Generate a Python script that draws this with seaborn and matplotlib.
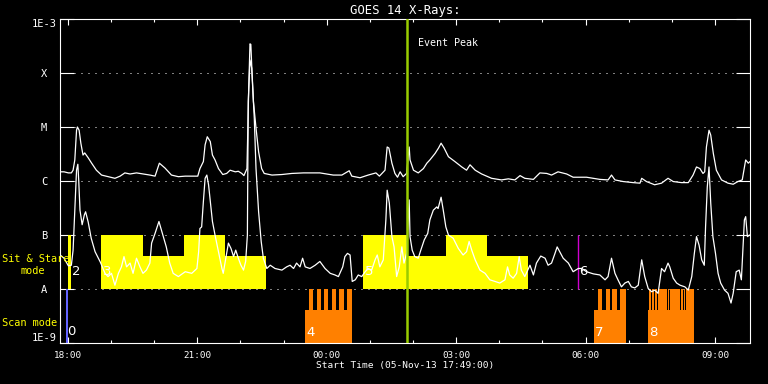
import numpy as np
import matplotlib
matplotlib.use("Agg")
import matplotlib.pyplot as plt
import seaborn as sns
from matplotlib.ticker import FixedLocator, MultipleLocator, NullLocator

# ----------------------------------------------------------
# Data (time in hours UT from 05-Nov-13 00:00, flux as log10 W/m^2)
# ----------------------------------------------------------

long_t = [17.82, 17.91, 18.01, 18.08, 18.12, 18.16, 18.20, 18.22, 18.26, 18.30,
          18.35, 18.39, 18.47, 18.55, 18.66, 18.78, 18.93, 19.09, 19.21, 19.32,
          19.44, 19.59, 19.74, 19.90, 20.02, 20.12, 20.25, 20.40, 20.56, 20.72,
          21.01, 21.06, 21.14, 21.18, 21.23, 21.30, 21.35, 21.41, 21.49, 21.59,
          21.68, 21.76, 21.88, 21.95, 22.03, 22.08, 22.15, 22.19, 22.22, 22.24,
          22.26, 22.30, 22.36, 22.42, 22.49, 22.55, 22.73, 22.96, 23.19, 23.46,
          23.84, 24.15, 24.35, 24.52, 24.58, 24.77, 24.96, 25.14, 25.22, 25.35,
          25.40, 25.44, 25.51, 25.58, 25.64, 25.70, 25.77, 25.85, 25.91, 25.93,
          26.01, 26.12, 26.24, 26.32, 26.39, 26.51, 26.59, 26.65, 26.72, 26.82,
          26.97, 27.13, 27.24, 27.32, 27.44, 27.59, 27.82, 28.05, 28.21, 28.36,
          28.48, 28.59, 28.79, 28.94, 29.10, 29.21, 29.36, 29.56, 29.71, 30.02,
          30.33, 30.52, 30.60, 30.68, 30.87, 31.10, 31.26, 31.30, 31.41, 31.60,
          31.76, 31.91, 32.03, 32.22, 32.38, 32.49, 32.57, 32.65, 32.72, 32.76,
          32.80, 32.86, 32.90, 32.96, 33.03, 33.15, 33.30, 33.42, 33.53, 33.63,
          33.67, 33.71, 33.77, 33.81]
long_log = [-5.83, -5.83, -5.85, -5.85, -5.80, -5.61, -5.06, -5.00, -5.06, -5.30,
            -5.52, -5.48, -5.57, -5.67, -5.80, -5.89, -5.92, -5.95, -5.91, -5.85,
            -5.87, -5.85, -5.87, -5.89, -5.91, -5.67, -5.76, -5.89, -5.92, -5.91,
            -5.91, -5.77, -5.64, -5.33, -5.18, -5.27, -5.52, -5.61, -5.77, -5.88,
            -5.86, -5.80, -5.83, -5.82, -5.86, -5.90, -5.77, -4.32, -3.46, -3.47,
            -3.85, -4.53, -5.02, -5.46, -5.77, -5.86, -5.89, -5.88, -5.86, -5.85,
            -5.85, -5.89, -5.89, -5.81, -5.91, -5.94, -5.89, -5.85, -5.91, -5.80,
            -5.37, -5.39, -5.67, -5.86, -5.93, -5.83, -5.92, -5.86, -5.37, -5.61,
            -5.80, -5.85, -5.77, -5.67, -5.61, -5.49, -5.39, -5.30, -5.39, -5.55,
            -5.64, -5.74, -5.80, -5.70, -5.80, -5.87, -5.95, -5.98, -5.96, -5.98,
            -5.90, -5.95, -5.97, -5.85, -5.86, -5.89, -5.83, -5.87, -5.93, -5.93,
            -5.97, -5.98, -5.89, -5.98, -6.01, -6.03, -6.04, -5.95, -6.01, -6.07,
            -6.04, -5.95, -6.01, -6.03, -6.03, -5.89, -5.74, -5.77, -5.86, -5.83,
            -5.37, -5.06, -5.15, -5.49, -5.80, -5.98, -6.04, -6.06, -6.01, -5.98,
            -5.80, -5.61, -5.67, -5.64]

short_t = [17.82, 17.91, 18.01, 18.08, 18.12, 18.17, 18.20, 18.23, 18.25, 18.28,
           18.33, 18.38, 18.41, 18.47, 18.54, 18.63, 18.75, 18.86, 18.93, 19.01,
           19.09, 19.17, 19.24, 19.30, 19.36, 19.44, 19.51, 19.59, 19.67, 19.74,
           19.82, 19.90, 19.94, 20.02, 20.11, 20.21, 20.28, 20.36, 20.44, 20.56,
           20.72, 20.87, 20.99, 21.03, 21.06, 21.10, 21.14, 21.18, 21.22, 21.26,
           21.30, 21.35, 21.41, 21.49, 21.57, 21.60, 21.66, 21.72, 21.78, 21.84,
           21.89, 21.95, 22.01, 22.07, 22.12, 22.16, 22.18, 22.22, 22.26, 22.32,
           22.36, 22.42, 22.48, 22.53, 22.61, 22.69, 22.80, 22.96, 23.07, 23.15,
           23.23, 23.30, 23.38, 23.44, 23.50, 23.61, 23.73, 23.84, 23.96, 24.08,
           24.19, 24.27, 24.37, 24.42, 24.48, 24.54, 24.59, 24.66, 24.73, 24.81,
           24.89, 24.96, 25.04, 25.12, 25.17, 25.23, 25.31, 25.37, 25.40, 25.45,
           25.51, 25.56, 25.62, 25.68, 25.74, 25.79, 25.85, 25.91, 25.93, 25.98,
           26.04, 26.12, 26.18, 26.26, 26.34, 26.39, 26.47, 26.55, 26.58, 26.65,
           26.70, 26.76, 26.82, 26.93, 27.05, 27.16, 27.24, 27.30, 27.36, 27.44,
           27.55, 27.67, 27.78, 27.90, 28.01, 28.13, 28.19, 28.24, 28.32, 28.40,
           28.46, 28.51, 28.59, 28.71, 28.79, 28.86, 28.96, 29.06, 29.13, 29.21,
           29.29, 29.34, 29.40, 29.48, 29.60, 29.71, 29.83, 29.91, 30.02, 30.18,
           30.33, 30.45, 30.52, 30.60, 30.68, 30.75, 30.83, 30.91, 30.99, 31.06,
           31.14, 31.22, 31.30, 31.37, 31.45, 31.53, 31.60, 31.68, 31.76, 31.83,
           31.91, 31.95, 32.03, 32.11, 32.19, 32.30, 32.38, 32.46, 32.52, 32.57,
           32.63, 32.69, 32.75, 32.78, 32.82, 32.86, 32.90, 32.95, 33.01, 33.07,
           33.13, 33.22, 33.30, 33.37, 33.42, 33.49, 33.56, 33.61, 33.64, 33.68,
           33.71, 33.75, 33.80]
short_log = [-7.37, -7.43, -7.57, -7.56, -7.28, -6.35, -5.80, -5.69, -5.98, -6.54,
             -6.81, -6.63, -6.57, -6.76, -7.06, -7.31, -7.50, -7.71, -7.77, -7.71,
             -7.93, -7.71, -7.59, -7.40, -7.59, -7.52, -7.71, -7.43, -7.59, -7.71,
             -7.65, -7.52, -7.15, -6.97, -6.75, -7.03, -7.22, -7.52, -7.71, -7.77,
             -7.68, -7.71, -7.62, -7.31, -6.88, -6.85, -6.38, -5.95, -5.89, -6.07,
             -6.38, -6.75, -7.00, -7.31, -7.62, -7.71, -7.43, -7.15, -7.25, -7.40,
             -7.28, -7.43, -7.56, -7.65, -7.49, -7.00, -4.53, -3.76, -3.91, -4.84,
             -5.77, -6.57, -7.12, -7.43, -7.62, -7.56, -7.62, -7.65, -7.59, -7.56,
             -7.62, -7.52, -7.59, -7.43, -7.59, -7.62, -7.56, -7.49, -7.62, -7.71,
             -7.74, -7.77, -7.59, -7.40, -7.34, -7.37, -7.86, -7.83, -7.74, -7.77,
             -7.68, -7.62, -7.65, -7.46, -7.37, -7.59, -7.46, -6.72, -6.17, -6.41,
             -7.03, -7.22, -7.77, -7.59, -7.22, -7.52, -7.34, -6.35, -7.03, -7.28,
             -7.40, -7.43, -7.28, -7.09, -6.97, -6.72, -6.54, -6.48, -6.51, -6.30,
             -6.54, -6.85, -7.00, -7.06, -7.25, -7.37, -7.31, -7.12, -7.28, -7.46,
             -7.65, -7.71, -7.83, -7.86, -7.89, -7.83, -7.59, -7.74, -7.80, -7.71,
             -7.40, -7.65, -7.77, -7.56, -7.74, -7.52, -7.39, -7.43, -7.56, -7.52,
             -7.34, -7.22, -7.31, -7.43, -7.52, -7.68, -7.62, -7.62, -7.68, -7.72,
             -7.74, -7.83, -7.77, -7.43, -7.71, -7.83, -7.96, -7.89, -7.86, -7.96,
             -7.98, -7.93, -7.46, -7.77, -7.99, -8.05, -8.02, -8.08, -7.62, -7.68,
             -7.52, -7.59, -7.80, -7.89, -7.93, -7.96, -8.02, -7.77, -7.34, -7.03,
             -7.19, -7.46, -7.56, -6.85, -6.11, -5.74, -6.41, -7.03, -7.34, -7.71,
             -7.89, -8.02, -8.08, -8.26, -8.08, -7.68, -7.65, -7.83, -7.34, -6.72,
             -6.66, -7.03, -7.00]

# Sit & Stare observing blocks (start, end, top flux)
sit_start = [18.01, 18.77, 19.74, 20.68, 21.64, 24.85, 25.85, 26.76, 27.71]
sit_end = [18.07, 19.74, 20.68, 21.64, 22.59, 25.85, 26.76, 27.71, 28.66]
sit_top = [1e-7, 1e-7, 4.1e-8, 1e-7, 4.1e-8, 1e-7, 4.1e-8, 1e-7, 4.1e-8]

# Scan mode blocks and their individual rasters
scan_start = [23.50, 30.19, 31.44]
scan_end = [24.58, 30.93, 32.52]
scan_top = [4.1e-9, 4.1e-9, 4.1e-9]
raster_start = [23.59, 23.77, 23.94, 24.12, 24.29, 24.47,
                30.28, 30.47, 30.62, 30.80,
                31.465, 31.548, 31.610, 31.670, 31.918, 31.964, 32.213,
                32.273, 32.335]
raster_end = [23.69, 23.86, 24.04, 24.22, 24.39, 24.58,
              30.39, 30.56, 30.73, 30.93,
              31.523, 31.585, 31.645, 31.893, 31.939, 32.188, 32.248,
              32.310, 32.52]

blue_start, blue_end = 17.96, 18.01
magenta_t = 29.83
event_peak = 25.87

obs_ids = ["0", "2", "3", "4", "5", "6", "7", "8"]
obs_t = [17.98, 18.10, 18.82, 23.52, 24.89, 29.84, 30.22, 31.47]
obs_flux = [1.6e-9, 2.1e-8, 2.1e-8, 1.55e-9, 2.1e-8, 2.1e-8, 1.55e-9, 1.55e-9]

level_flux = [1e-9, 1e-8, 1e-7, 1e-6, 1e-5, 1e-4, 1e-3]
level_labels = ["1E-9", "A", "B", "C", "M", "X", "1E-3"]
hour_ticks = [18, 21, 24, 27, 30, 33]
hour_labels = ["18:00", "21:00", "00:00", "03:00", "06:00", "09:00"]

# ----------------------------------------------------------
# Style
# ----------------------------------------------------------

sns.set_theme(style="dark")
plt.rcParams["font.family"] = ["DejaVu Sans Mono", "DejaVu Sans"]
plt.rcParams["axes.edgecolor"] = "white"
plt.rcParams["text.color"] = "white"

fig = plt.figure(figsize=(7.68, 3.84), dpi=100, facecolor="black")
ax = fig.add_axes([60 / 768, 41 / 384, 690 / 768, 324 / 384])
ax.set_facecolor("black")
ax.set_yscale("log")

# grid (dotted at each class level)
for lvl in level_flux[1:-1]:
    ax.axhline(lvl, color="white", lw=0.72, ls=(0, (1, 6)), zorder=0.5)

# Sit & Stare blocks
ax.bar(x=sit_start, height=np.subtract(sit_top, 1e-8),
       width=np.subtract(sit_end, sit_start), bottom=1e-8, align="edge",
       color="#FFFF00", linewidth=0, zorder=1)

# Scan mode blocks
ax.bar(x=scan_start, height=np.subtract(scan_top, 1e-9),
       width=np.subtract(scan_end, scan_start), bottom=1e-9, align="edge",
       color="#FF8000", linewidth=0, zorder=1)
ax.bar(x=raster_start, height=1e-8 - 1e-9,
       width=np.subtract(raster_end, raster_start), bottom=1e-9, align="edge",
       color="#FF8000", linewidth=0, zorder=1)

ax.bar(x=[blue_start], height=9e-9, width=blue_end - blue_start, bottom=1e-9,
       align="edge", color="#6464FF", linewidth=0, zorder=1)
ax.vlines(magenta_t, 1e-8, 1e-7, color="#D000D0", lw=1.0, zorder=1.5)

# GOES curves
sns.lineplot(x=long_t, y=np.power(10.0, long_log), ax=ax, color="white",
             lw=0.9, estimator=None, sort=False, zorder=3)
sns.lineplot(x=short_t, y=np.power(10.0, short_log), ax=ax, color="white",
             lw=0.9, estimator=None, sort=False, zorder=3)

ax.axvline(event_peak, color="#99CC00", lw=1.8, zorder=4)
ax.text(26.11, 3.6e-4, "Event Peak", color="white", fontsize=7.2,
        va="center", ha="left")

for oid, t, f in zip(obs_ids, obs_t, obs_flux):
    ax.text(t, f, oid, color="white", fontsize=9.5,
            family="DejaVu Sans", va="center", ha="left", zorder=5)

# ----------------------------------------------------------
# Axes
# ----------------------------------------------------------

ax.set_ylim(1e-9, 1e-3)
ax.set_xlim(17.8167, 33.81)

ax.yaxis.set_major_locator(FixedLocator(level_flux))
ax.yaxis.set_minor_locator(NullLocator())
ax.set_yticklabels(level_labels)
ax.tick_params(axis="y", which="major", direction="in", length=10, width=0.8,
               colors="white", left=True, right=True, pad=11.5, labelsize=7.5)
ylabels = ax.get_yticklabels()
for lab in ylabels:
    lab.set_horizontalalignment("center")
ylabels[0].set_verticalalignment("bottom")
ylabels[-1].set_verticalalignment("top")

ax.xaxis.set_major_locator(FixedLocator(hour_ticks))
ax.xaxis.set_minor_locator(MultipleLocator(1))
ax.set_xticklabels(hour_labels)
ax.tick_params(axis="x", which="major", direction="in", length=4.5, width=0.8,
               colors="white", top=True, bottom=True, pad=5.5, labelsize=6.7)
ax.tick_params(axis="x", which="minor", direction="in", length=2.3, width=0.8,
               colors="white", top=True, bottom=True)

for side in ["left", "right", "top", "bottom"]:
    ax.spines[side].set_color("white")
    ax.spines[side].set_linewidth(0.8)

ax.set_title("GOES 14 X-Rays:", color="white", fontsize=8.8, pad=3.5)
ax.set_xlabel("Start Time (05-Nov-13 17:49:00)", color="white",
              fontsize=6.8, labelpad=1.0)
ax.set_ylabel("")

# mode labels on the left
fig.text(2 / 768, 1 - 258.7 / 384, "Sit & Stare", color="#FFFF00",
         fontsize=7.4, va="center", ha="left")
fig.text(33 / 768, 1 - 271 / 384, "mode", color="#FFFF00",
         fontsize=7.4, va="center", ha="center")
fig.text(2 / 768, 1 - 323.5 / 384, "Scan mode", color="#FFFF00",
         fontsize=7.4, va="center", ha="left")

fig.savefig("out.png", dpi=100, facecolor="black")
